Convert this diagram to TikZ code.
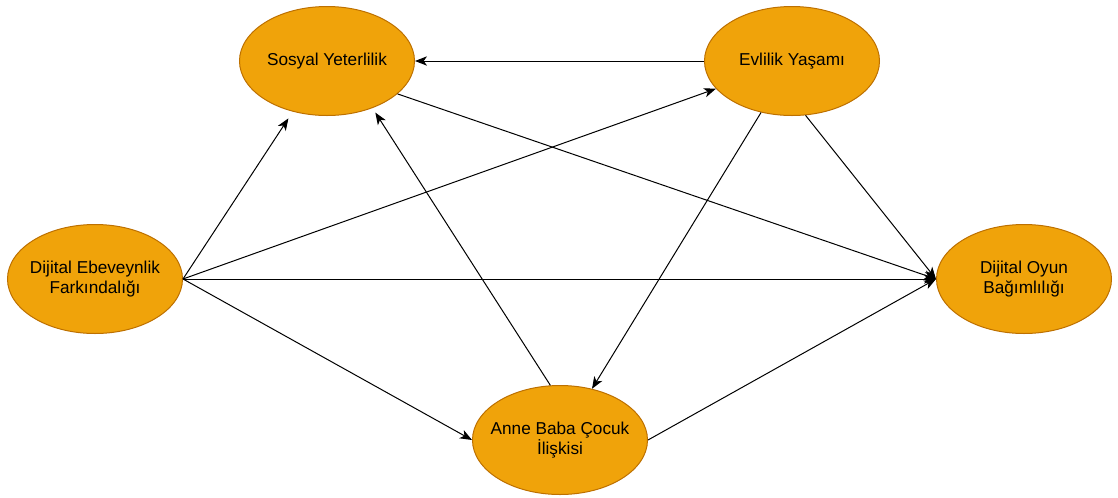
\documentclass[tikz,border=0pt]{standalone}
\usepackage{fontspec}
\setmainfont{Liberation Sans}
\usetikzlibrary{shapes.geometric,arrows.meta}
\definecolor{factorfill}{HTML}{F0A30A}
\definecolor{factorline}{HTML}{BD7000}
\begin{document}
\begin{tikzpicture}[x=0.75pt,y=-0.75pt,
    factor/.style={ellipse,draw=factorline,fill=factorfill,line width=0.75pt,
      minimum width=175*0.75pt,minimum height=109*0.75pt,inner xsep=-20pt,inner ysep=0pt,
      align=center,font=\fontsize{12.9pt}{15pt}\selectfont}]
      \useasboundingbox (0,0) rectangle (1118,497);
      \draw
        (327,61) node[factor] (sos){Sosyal Yeterlilik}
        (792,61) node[factor] (evl){Evlilik Yaşamı}
        (95,279) node[factor] (def){Dijital Ebeveynlik\\Farkındalığı}
        (1024,279) node[factor] (dob){Dijital Oyun\\Bağımlılığı}
        (560,440) node[factor] (abc){Anne Baba Çocuk\\İlişkisi};
      \begin{scope}[-{Stealth[length=9pt,width=7pt,inset=2.5pt]},line width=0.75pt]
        \draw[shorten >=6pt] (def.east) to (sos.236);
        \draw (def.east) to (evl.200);
        \draw (def.east) to (dob.west);
        \draw (def.east) to (abc.west);
        \draw (evl.west) to (sos.east);
        \draw (evl.284) to (dob.west);
        \draw (evl.239) to (abc.58);
        \draw (sos.335) to (dob.west);
        \draw[shorten >=4pt] (abc.100) to (sos.314);
        \draw (abc.east) to (dob.west);
      \end{scope}
    \end{tikzpicture}
\end{document}
